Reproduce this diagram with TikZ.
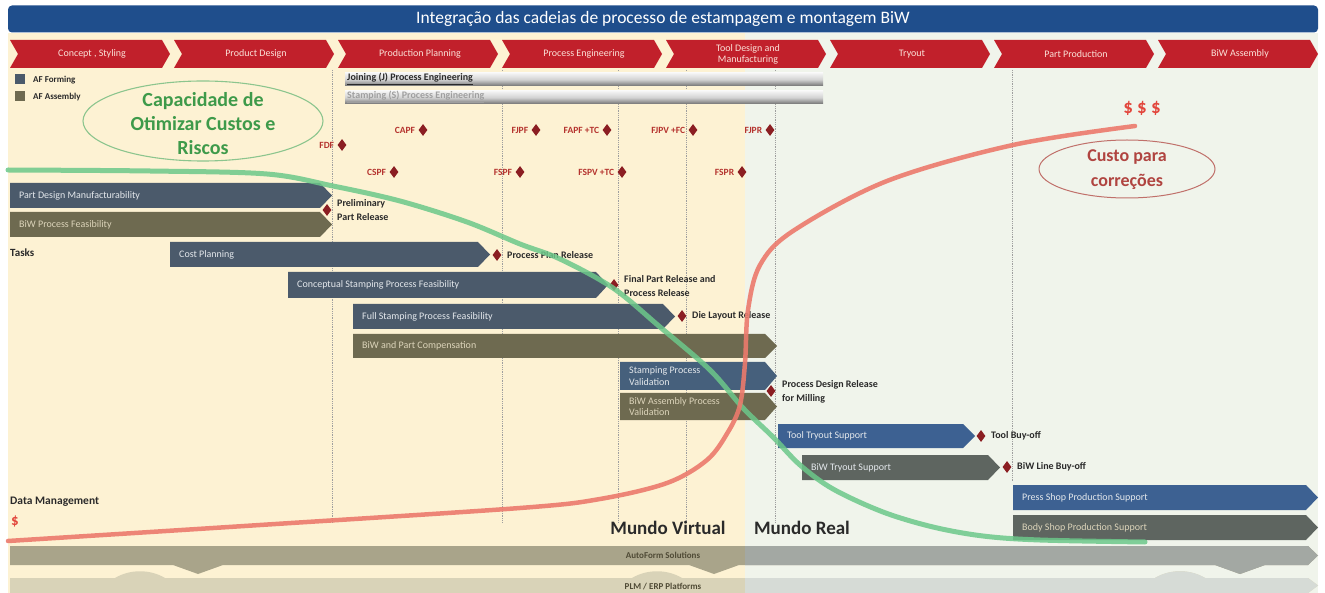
\documentclass[tikz,border=0pt]{standalone}
\usepackage{fontspec}
\setmainfont{Carlito}
\usetikzlibrary{shapes.geometric}
\definecolor{titleblue}{HTML}{1F4E8C}
\definecolor{phasered}{HTML}{C1202B}
\definecolor{phtext}{HTML}{FBE1D8}
\definecolor{creambg}{HTML}{FDF2D3}
\definecolor{realbg}{HTML}{F0F4EB}
\definecolor{afblue}{HTML}{4B5A6B}
\definecolor{afolive}{HTML}{6E6A50}
\definecolor{brblue}{HTML}{3D6192}
\definecolor{midblue}{HTML}{46607C}
\definecolor{brgray}{HTML}{5E6560}
\definecolor{msred}{HTML}{8B1E22}
\definecolor{mstext}{HTML}{B5332E}
\definecolor{darktext}{HTML}{2A2A2A}
\definecolor{capgreen}{HTML}{3E9A4A}
\definecolor{ellgreen}{HTML}{8CC58E}
\definecolor{custored}{HTML}{B04440}
\definecolor{ellred}{HTML}{C0706A}
\definecolor{dollarred}{HTML}{E2463C}
\definecolor{greenline}{HTML}{6CC88A}
\definecolor{redline}{HTML}{EC7A6C}
\definecolor{afleft}{HTML}{A9A48A}
\definecolor{afright}{HTML}{A3A8A3}
\definecolor{plmleft}{HTML}{D9D3B8}
\definecolor{plmright}{HTML}{D6DBD6}
\definecolor{bartext}{HTML}{E4E8EC}
\definecolor{olivetext}{HTML}{DCD4BA}
\definecolor{bottext}{HTML}{4F4A35}
\tikzset{
  vline/.style={draw=gray!75, densely dotted, line width=0.8},
  phlab/.style={text=phtext, font=\fontsize{10}{11}\selectfont, align=center, inner sep=0},
  msd/.style={diamond, fill=msred, inner sep=0, minimum width=9, minimum height=12},
  mslab/.style={text=mstext, font=\bfseries\fontsize{9.5}{11}\selectfont, inner sep=1},
  reltext/.style={text=darktext, font=\bfseries\fontsize{10}{14}\selectfont, align=left, anchor=west, inner sep=1},
  tasktext/.style={font=\fontsize{10}{11.5}\selectfont, inner sep=0, align=left, anchor=west},
  smalllab/.style={text=darktext, font=\bfseries\fontsize{9.5}{11}\selectfont, anchor=west, inner sep=0},
}
\newcommand{\milestone}[4]{%
  \node[msd] (#1) at (#2,#3) {};
  \node[mslab, anchor=east] (#1l) at ([xshift=-2]#1.west) {#4};
}
\newcommand{\taskbar}[8]{%
  \fill[#6] (#2,#4) -- (#3-12,#4) -- (#3,{(#4+#5)/2}) -- (#3-12,#5) -- (#2,#5) -- cycle;
  \node[tasktext, text=#7] (#1) at (#2+9,{(#4+#5)/2}) {#8};
}
\newcommand{\afbar}[1]{%
  \fill[#1] (10,546) -- (1308,546) -- (1318,555.5) -- (1308,565) -- (1265,565) -- (1240,574) -- (1215,565)
    -- (739,565) -- (714,574) -- (689,565) -- (223,565) -- (198,574) -- (173,565) -- (10,565) -- cycle;
}
\newcommand{\plmbar}[1]{%
  \fill[#1] (10,578) -- (115,578) .. controls (130,569) and (150,569) .. (165,578)
    -- (632,578) .. controls (647,569) and (667,569) .. (682,578)
    -- (1155,578) .. controls (1170,569) and (1190,569) .. (1205,578)
    -- (1308,578) -- (1318,585.5) -- (1308,593) -- (10,593) -- cycle;
}
\begin{document}
\begin{tikzpicture}[x=1pt,y=-1pt]
\useasboundingbox (0,0) rectangle (1325,593);
\fill[white] (0,0) rectangle (1325,593);
% backgrounds
\fill[creambg] (8,33) rectangle (745,593);
\fill[realbg] (745,33) rectangle (1318,593);
% title
\node[fill=titleblue, rounded corners=4, minimum width=1310, minimum height=27, inner sep=0,
      text=white, font=\fontsize{17.5}{20}\selectfont] (title) at (663,19)
      {Integração das cadeias de processo de estampagem e montagem BiW};
% phases
\foreach \i/\lab in {0/{Concept , Styling},1/{Product Design},2/{Production Planning},3/{Process Engineering},
   4/{Tool Design and\\Manufacturing},5/{Tryout},6/{Part Production},7/{BiW Assembly}}{
  \pgfmathsetmacro{\xa}{10+164*\i}
  \fill[phasered] (\xa,40) -- ++(152,0) -- ++(8,14) -- ++(-8,14) -- ++(-152,0) -- ++(8,-14) -- cycle;
  \node[phlab] (ph\i) at (\xa+82,54) {\lab};
}
% dotted verticals
\foreach \xv in {332,502,618,686,775}{
  \draw[vline] (\xv,70) -- (\xv,522);
}
\draw[vline] (1012,70) -- (1012,482);
% legend
\node[fill=afblue, minimum size=10, inner sep=0] (legf) at (20,79) {};
\node[fill=afolive, minimum size=10, inner sep=0] (lega) at (20,96) {};
\node[smalllab, font=\bfseries\fontsize{9}{10}\selectfont] (legft) at (33,80) {AF Forming};
\node[smalllab, font=\bfseries\fontsize{9}{10}\selectfont] (legat) at (33,97) {AF Assembly};
% joining / stamping bars
\shade[top color=white!92!gray, bottom color=gray!90!black, middle color=gray!35] (345,73) rectangle (823,86);
\shade[top color=white!92!gray, bottom color=gray!90!black, middle color=gray!35] (345,91) rectangle (823,104);
\node[smalllab, font=\bfseries\fontsize{10}{11}\selectfont] (joinj) at (347,79) {\underline{Joining (J) Process Engineering}};
\node[smalllab, font=\bfseries\fontsize{10}{11}\selectfont, text=gray!75!white] (joins) at (347,97) {\underline{Stamping (S) Process Engineering}};
% ellipses
\node[draw=ellgreen, line width=1.1, ellipse, minimum width=240, minimum height=80, inner sep=0] (capell) at (203,121) {};
\node[text=capgreen, font=\bfseries\fontsize{20}{24}\selectfont, align=center] (cap) at (203,124) {Capacidade de\\Otimizar Custos e\\Riscos};
\node[draw=ellred, line width=1, ellipse, minimum width=176, minimum height=58, inner sep=0] (custoell) at (1127,169) {};
\node[text=custored, font=\bfseries\fontsize{18}{25}\selectfont, align=center] (custo) at (1127,170) {Custo para\\correções};
\node[text=dollarred, font=\bfseries\fontsize{19}{22}\selectfont] (dollars) at (1142,108) {\$ \$ \$};
% milestones
\milestone{capf}{423}{130}{CAPF}
\milestone{fdf}{342}{145}{FDF}
\milestone{cspf}{394}{172}{CSPF}
\milestone{fjpf}{536}{130}{FJPF}
\milestone{fapf}{607}{130}{FAPF +TC}
\milestone{fjpv}{693}{130}{FJPV +FC}
\milestone{fjpr}{770}{130}{FJPR}
\milestone{fspf}{520}{172}{FSPF}
\milestone{fspv}{622}{172}{FSPV +TC}
\milestone{fspr}{742}{172}{FSPR}
% task bars
\taskbar{t1}{10}{332}{183}{208}{afblue}{bartext}{Part Design Manufacturability}
\taskbar{t2}{10}{332}{212}{237}{afolive}{olivetext}{BiW Process Feasibility}
\taskbar{t3}{170}{490}{242}{267}{afblue}{bartext}{Cost Planning}
\taskbar{t4}{288}{608}{272}{298}{afblue}{bartext}{Conceptual Stamping Process Feasibility}
\taskbar{t5}{353}{675}{304}{329}{afblue}{bartext}{Full Stamping Process Feasibility}
\taskbar{t6}{353}{777}{334}{358}{afolive}{olivetext}{BiW and Part Compensation}
\taskbar{t7}{620}{777}{362}{390}{midblue}{bartext}{Stamping Process\\Validation}
\taskbar{t8}{620}{777}{393}{420}{afolive}{olivetext}{BiW Assembly Process\\Validation}
\taskbar{t9}{778}{975}{424}{448}{brblue}{bartext}{Tool Tryout Support}
\taskbar{t10}{802}{1000}{455}{480}{brgray}{bartext}{BiW Tryout Support}
\taskbar{t11}{1013}{1318}{485}{510}{brblue}{bartext}{Press Shop Production Support}
\taskbar{t12}{1013}{1318}{515}{540}{brgray}{olivetext}{Body Shop Production Support}
\node[smalllab, font=\bfseries\fontsize{11}{12}\selectfont] (tasks) at (10,253) {Tasks};
% releases
\node[msd] (r1) at (327,210) {};
\node[reltext] (r1t) at (336,210) {Preliminary\\Part Release};
\node[msd] (r2) at (497,255) {};
\node[reltext] (r2t) at (506,255) {Process Plan Release};
\node[msd] (r3) at (614,285) {};
\node[reltext] (r3t) at (623,286) {Final Part Release and\\Process Release};
\node[msd] (r4) at (682,316) {};
\node[reltext] (r4t) at (691,316) {Die Layout Release};
\node[msd] (r5) at (771,391) {};
\node[reltext] (r5t) at (781,392) {Process Design Release\\for Milling};
\node[msd] (r6) at (981,436) {};
\node[reltext] (r6t) at (990,436) {Tool Buy-off};
\node[msd] (r7) at (1007,467) {};
\node[reltext] (r7t) at (1016,467) {BiW Line Buy-off};
% curves
\draw[greenline, opacity=0.85, line width=5, line cap=round] plot[smooth, tension=0.55] coordinates {
  (8,170) (150,171) (267,174) (333,186) (400,201) (467,222) (520,244) (560,259) (613,288)
  (660,327) (710,370) (743,408) (773,437) (800,465) (833,489) (883,512) (933,527) (983,536)
  (1040,540) (1145,542)};
\draw[redline, opacity=0.9, line width=4.5, line cap=round] plot[smooth, tension=0.55] coordinates {
  (8,541) (260,525) (520,508) (600,499) (667,483) (707,460) (728,432) (740,405)
  (745,363) (748,310) (760,265) (793,231) (887,181) (1013,145) (1135,126)};
% bottom bars
\afbar{afleft}
\plmbar{plmleft}
\begin{scope}
  \clip (745,540) rectangle (1325,593);
  \afbar{afright}
  \plmbar{plmright}
\end{scope}
\node[text=bottext, font=\bfseries\fontsize{9}{10}\selectfont] (afs) at (663,555) {AutoForm Solutions};
\node[text=bottext, font=\bfseries\fontsize{9}{10}\selectfont] (plm) at (663,587) {PLM / ERP Platforms};
% labels
\node[smalllab, font=\bfseries\fontsize{11.5}{13}\selectfont] (dm) at (10,502) {Data Management};
\node[text=dollarred, font=\bfseries\fontsize{15}{16}\selectfont, anchor=west, inner sep=0] (dollar) at (11,521) {\$};
\node[text=darktext, font=\bfseries\fontsize{19}{22}\selectfont] (mv) at (668,528) {Mundo Virtual};
\node[text=darktext, font=\bfseries\fontsize{19}{22}\selectfont] (mr) at (802,528) {Mundo Real};
\end{tikzpicture}
\end{document}
